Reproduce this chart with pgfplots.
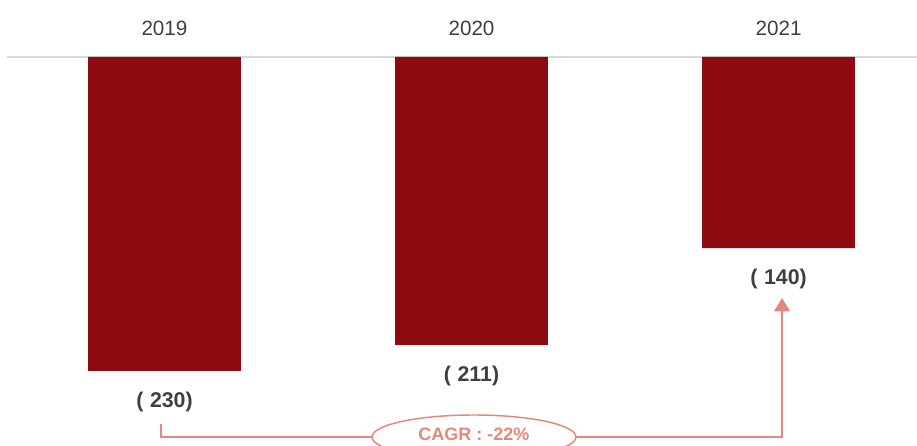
\documentclass[border=0pt]{standalone}
\usepackage{pgfplots}
\pgfplotsset{compat=1.18}
\usepackage{fontspec}
\setmainfont{Liberation Sans}
\usetikzlibrary{shapes.geometric,arrows.meta}
\definecolor{barred}{HTML}{8E0910}
\definecolor{lbl}{HTML}{3F3F3F}
\definecolor{cagr}{HTML}{E3897B}
\definecolor{axgray}{HTML}{D9D9D9}
\pgfplotstableread{
x y label
0 -230 {(\hspace{5pt}230)}
1 -211 {(\hspace{5pt}211)}
2 -140 {(\hspace{5pt}140)}
}\datatable
\begin{document}
\begin{tikzpicture}
\useasboundingbox (0,0) rectangle (687.75pt,334.5pt);
\clip (0,0) rectangle (687.75pt,334.5pt);
\begin{axis}[
  at={(0,0)}, anchor=south west,
  scale only axis, width=687.75pt, height=334.5pt,
  xmin=-0.5358, xmax=2.4511, ymin=-285, ymax=41.76,
  hide axis, clip=false,
  ybar, bar width=0.498,
  nodes near coords,
  point meta=explicit symbolic,
  every node near coord/.append style={anchor=center, yshift=-23pt,
     font=\fontsize{16}{19}\selectfont\bfseries, text=lbl, inner sep=0pt},
]
\draw[axgray, line width=1.3pt] (axis cs:-0.513,0) -- (axis cs:2.47,0);
\addplot[fill=barred, draw=none] table[x=x, y=y, meta=label] {\datatable};
\node[text=lbl, font=\fontsize{15.5}{18}\selectfont] at (axis cs:0,21.2) {2019};
\node[text=lbl, font=\fontsize{15.5}{18}\selectfont] at (axis cs:1,21.2) {2020};
\node[text=lbl, font=\fontsize{15.5}{18}\selectfont] at (axis cs:2,21.2) {2021};
\draw[cagr, line width=1.3pt, -{Triangle[width=12pt,length=10pt]}]
  (axis cs:-0.0114,-268.9) -- (axis cs:-0.0114,-278.4) -- (axis cs:2.0114,-278.4) -- (axis cs:2.0114,-176.6);
\node[ellipse, draw=cagr, line width=1.1pt, fill=white, minimum width=153pt, minimum height=33pt, inner sep=0pt]
  at (axis cs:1.008,-278.4) {};
\node[text=cagr, font=\fontsize{13.5}{16}\selectfont\bfseries] at (axis cs:1.008,-276.2) {CAGR : -22\%};
\end{axis}
\end{tikzpicture}
\end{document}
